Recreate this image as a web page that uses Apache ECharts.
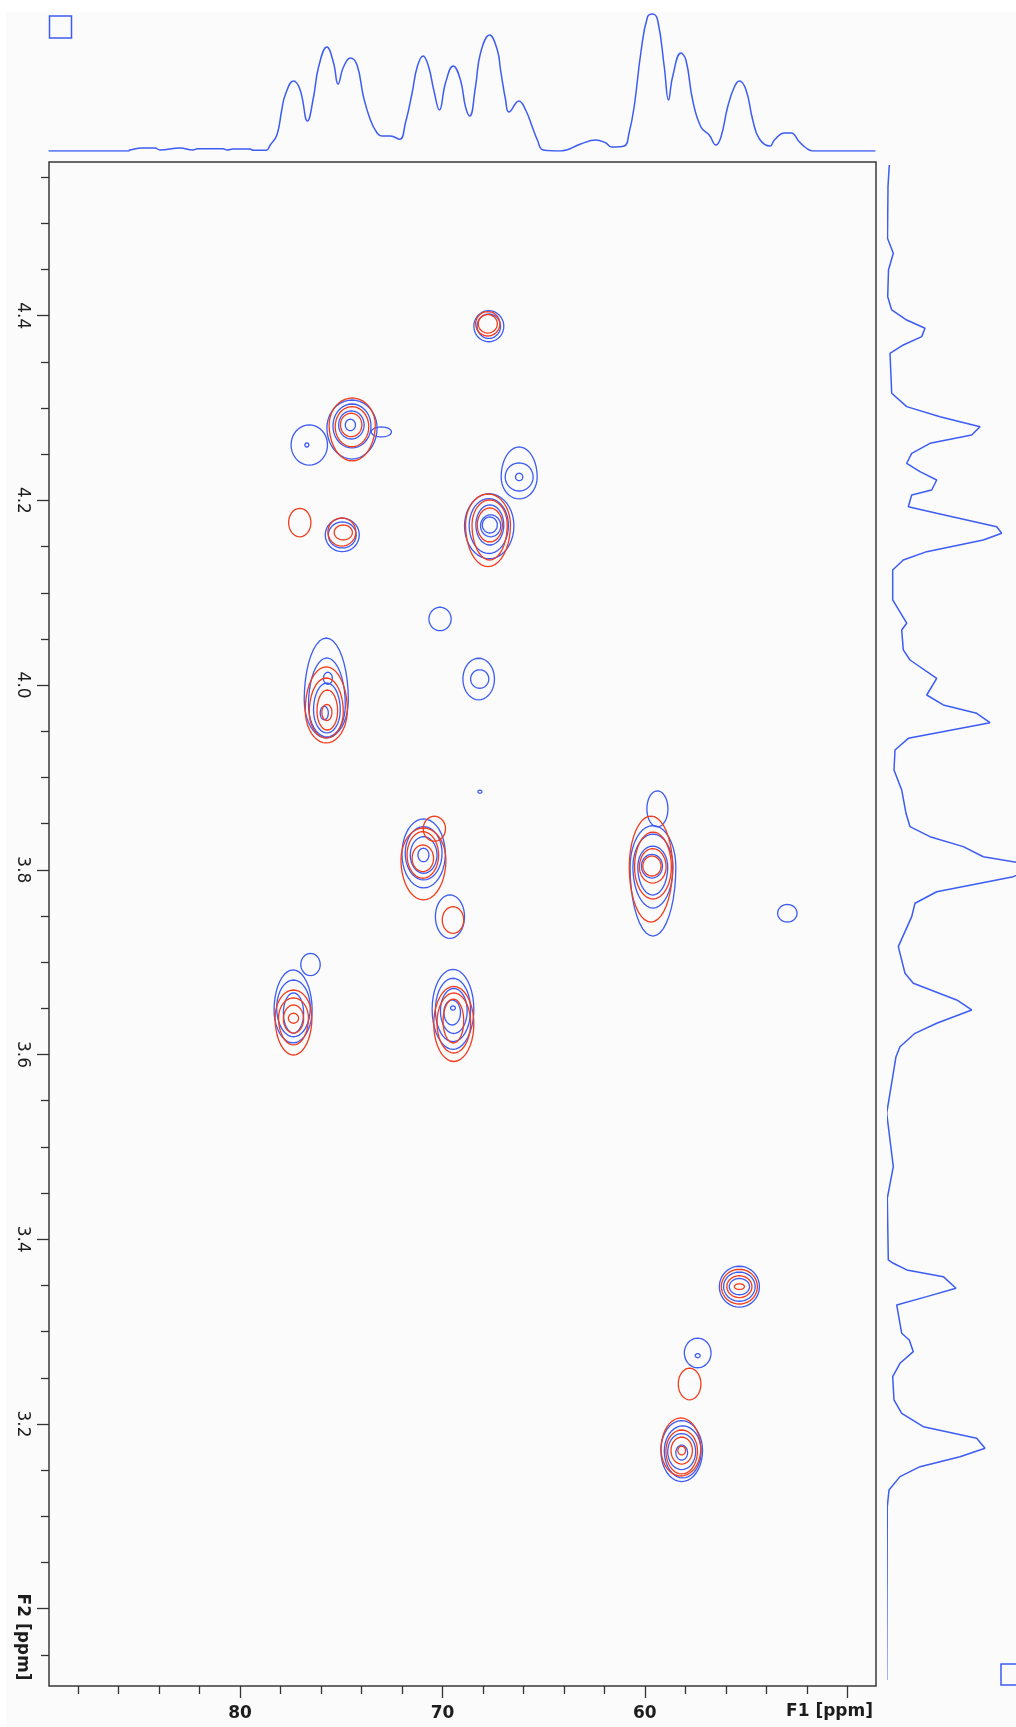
<!DOCTYPE html>
<html>
<head>
<meta charset="utf-8">
<script src="https://cdn.jsdelivr.net/npm/echarts@6/dist/echarts.min.js"></script>
<style>
html,body{margin:0;padding:0;background:#ffffff;}
#c{width:1016px;height:1727px;}
</style>
</head>
<body>
<div id="c"></div>
<script>
// Axis ranges (ppm)
const f1Range = [48.58, 89.44];      // 13C, drawn high -> low
const f2Range = [2.9163, 4.5664];    // 1H

// Tick positions and labels
const xMajorTicks = [80, 70, 60, 50];
const xMinorTicks = [88, 86, 84, 82, 78, 76, 74, 72, 68, 66, 64, 62, 58, 56, 54, 52];
const xTickLabels = [80, 70, 60];
const yMajorTicks = [4.4, 4.2, 4.0, 3.8, 3.6, 3.4, 3.2, 3.0];
const yMinorTicks = [4.55, 4.5, 4.45, 4.35, 4.3, 4.25, 4.15, 4.1, 4.05, 3.95, 3.9, 3.85,
                     3.75, 3.7, 3.65, 3.55, 3.5, 3.45, 3.35, 3.3, 3.25, 3.15, 3.1, 3.05, 2.95];
const yTickLabels = [4.4, 4.2, 4.0, 3.8, 3.6, 3.4, 3.2];

// F1 projection (13C shift, intensity)
const topShift = [89.46, 85.50, 85.45, 84.80, 84.20, 83.96, 82.97, 82.33, 82.10, 80.84, 80.64, 80.35,
  79.50, 79.36, 78.71, 78.51, 78.18, 77.94, 77.77, 77.36, 77.03, 76.67, 76.37, 76.12, 75.71, 75.38,
  75.16, 74.89, 74.55, 74.22, 73.90, 73.56, 73.23, 72.99, 72.57, 72.11, 71.83, 71.50, 71.25, 70.96,
  70.68, 70.43, 70.15, 69.85, 69.47, 69.11, 68.86, 68.65, 68.37, 68.12, 67.67, 67.29, 67.13, 66.88,
  66.72, 66.22, 65.89, 65.56, 65.31, 65.03, 64.16, 63.17, 62.43, 61.93, 61.63, 61.02, 60.78, 60.53,
  60.20, 59.87, 59.62, 59.37, 59.04, 58.83, 58.63, 58.22, 57.97, 57.64, 57.23, 56.82, 56.49, 56.24,
  55.91, 55.58, 55.33, 55.00, 54.67, 54.34, 53.81, 53.60, 53.10, 52.77, 52.36, 52.03, 51.70, 48.61];
const topIntensity = [0, 0, 1, 3, 3, 1, 3, 1, 2.3, 2.3, 1, 2,
  2, 0.7, 0.7, 6, 16, 41, 56, 70, 61, 30, 54, 84, 104, 88,
  67, 84, 93, 86, 54, 31, 18, 15, 15, 11.7, 28, 58, 84, 95,
  84, 61, 41, 68, 85, 71, 44, 35, 64, 98, 116, 101, 81, 51,
  39, 50, 41, 24, 11, 1, 0, 7, 11, 8, 4, 5, 18, 44,
  98, 134, 137, 131, 84, 51, 74, 98, 91, 51, 24, 16, 6, 14,
  44, 64, 70, 61, 31, 12, 5, 11, 18, 18, 9, 3, 0, 0];

// F2 projection (1H shift, intensity)
const rightShift = [4.5632, 4.5397, 4.4838, 4.4676, 4.4495, 4.4206, 4.4062, 4.3953, 4.3864, 4.3773,
  4.3683, 4.3593, 4.3160, 4.3015, 4.2906, 4.2798, 4.2708, 4.2618, 4.2510, 4.2402, 4.2311, 4.2221,
  4.2113, 4.2059, 4.1932, 4.1861, 4.1715, 4.1644, 4.1571, 4.1445, 4.1355, 4.1247, 4.0922, 4.0670,
  4.0597, 4.0381, 4.0272, 4.0074, 3.9893, 3.9785, 3.9695, 3.9593, 3.9424, 3.9298, 3.9081, 3.8865,
  3.8612, 3.8467, 3.8359, 3.8251, 3.8142, 3.8042, 3.7926, 3.7763, 3.7638, 3.7493, 3.7168, 3.6880,
  3.6772, 3.6591, 3.6483, 3.6339, 3.6230, 3.6085, 3.5977, 3.5364, 3.4786, 3.4444, 3.3776, 3.3740,
  3.3668, 3.3595, 3.3470, 3.3379, 3.3289, 3.2982, 3.2909, 3.2783, 3.2657, 3.2512, 3.2260, 3.2116,
  3.1971, 3.1845, 3.1737, 3.1646, 3.1538, 3.1430, 3.1286, 3.1105, 2.9229];
const rightIntensity = [1.3, 0, -0.5, 5.3, 0.5, -0.3, 3.7, 18.7, 37, 33.7,
  15.3, 2, 3.7, 18.7, 52, 92, 83.7, 42, 23.7, 18.7, 32, 48.7,
  43.7, 23.7, 20.3, 48.7, 108.7, 113.7, 95.3, 38.7, 15.3, 4.7, 4.7, 18.7,
  13.7, 15.3, 22, 48.7, 38.7, 55.3, 88.7, 102, 20.3, 7, 6, 13.7,
  18, 22, 42, 75.3, 95.3, 150, 125.3, 48.7, 27, 23.7, 10.3, 17,
  25.3, 68.7, 83.7, 48.7, 27, 12, 8, -1.3, 5.3, -0.7, 0.3, 5.3,
  18.7, 55.3, 68, 38.7, 8.7, 13.7, 21.3, 25.3, 12, 4.7, 6, 13.7,
  35.3, 88.7, 97, 72, 32, 12, 1, -0.7, -1.3];

// Contour rings: [13C centre, 1H centre, 13C half-width, 1H half-height up, 1H half-height down]
const blueRings = [
  [67.71, 4.3886, 0.74, 0.0168, 0.0168], [67.71, 4.3886, 0.58, 0.0132, 0.0132],
  [74.47, 4.2784, 1.24, 0.0303, 0.0336], [74.47, 4.2806, 0.94, 0.0238, 0.0238],
  [74.50, 4.2817, 0.63, 0.0152, 0.0152], [74.55, 4.2817, 0.25, 0.0062, 0.0062],
  [76.58, 4.2600, 0.90, 0.0217, 0.0217], [76.70, 4.2600, 0.10, 0.0022, 0.0022],
  [73.02, 4.2741, 0.50, 0.0054, 0.0054],
  [74.95, 4.1626, 0.84, 0.0181, 0.0181], [74.95, 4.1626, 0.69, 0.0141, 0.0141],
  [66.21, 4.2254, 0.89, 0.0325, 0.0238], [66.21, 4.2254, 0.69, 0.0152, 0.0152],
  [66.21, 4.2254, 0.18, 0.0040, 0.0040],
  [67.69, 4.1725, 1.22, 0.0347, 0.0357], [67.71, 4.1728, 0.97, 0.0292, 0.0303],
  [67.66, 4.1734, 0.69, 0.0217, 0.0217], [67.62, 4.1725, 0.50, 0.0119, 0.0119],
  [67.66, 4.1734, 0.37, 0.0087, 0.0087],
  [70.12, 4.0716, 0.55, 0.0127, 0.0127],
  [68.21, 4.0066, 0.78, 0.0225, 0.0225], [68.16, 4.0066, 0.45, 0.0100, 0.0100],
  [75.74, 3.9839, 1.09, 0.0671, 0.0411], [75.71, 3.9785, 0.91, 0.0509, 0.0346],
  [75.71, 3.9731, 0.66, 0.0292, 0.0249], [75.66, 4.0074, 0.22, 0.0065, 0.0065],
  [75.84, 3.9698, 0.20, 0.0073, 0.0073],
  [68.15, 3.8846, 0.10, 0.0016, 0.0016],
  [70.93, 3.8172, 1.07, 0.0379, 0.0368], [70.93, 3.8180, 0.91, 0.0288, 0.0289],
  [70.93, 3.8161, 0.66, 0.0198, 0.0198], [70.94, 3.8161, 0.27, 0.0073, 0.0073],
  [69.63, 3.7493, 0.72, 0.0235, 0.0235],
  [77.38, 3.6483, 0.94, 0.0433, 0.0357], [76.52, 3.6975, 0.48, 0.0120, 0.0120],
  [77.36, 3.6504, 0.83, 0.0303, 0.0311], [77.36, 3.6450, 0.50, 0.0217, 0.0217],
  [69.48, 3.6490, 1.03, 0.0433, 0.0433], [69.48, 3.6483, 0.87, 0.0343, 0.0343],
  [69.44, 3.6472, 0.66, 0.0244, 0.0244], [69.52, 3.6455, 0.41, 0.0135, 0.0135],
  [69.48, 3.6504, 0.12, 0.0022, 0.0022],
  [59.38, 3.8660, 0.52, 0.0195, 0.0195], [59.60, 3.8030, 1.13, 0.0450, 0.0747],
  [59.60, 3.8030, 0.99, 0.0357, 0.0444], [59.61, 3.8030, 0.74, 0.0227, 0.0303],
  [59.65, 3.8041, 0.52, 0.0126, 0.0130],
  [52.96, 3.7530, 0.48, 0.0095, 0.0095],
  [55.33, 3.3487, 0.99, 0.0221, 0.0221], [55.33, 3.3487, 0.78, 0.0158, 0.0158],
  [55.33, 3.3487, 0.50, 0.0088, 0.0088],
  [57.39, 3.2769, 0.66, 0.0160, 0.0160], [57.39, 3.2740, 0.12, 0.0022, 0.0022],
  [58.18, 3.1712, 1.03, 0.0325, 0.0336], [58.13, 3.1708, 0.91, 0.0271, 0.0292],
  [58.18, 3.1701, 0.69, 0.0195, 0.0195], [58.18, 3.1690, 0.29, 0.0081, 0.0081]
];
const redRings = [
  [67.76, 4.3912, 0.60, 0.0132, 0.0132], [67.76, 4.3912, 0.47, 0.0100, 0.0100],
  [74.46, 4.2817, 1.14, 0.0292, 0.0390], [74.47, 4.2798, 0.83, 0.0217, 0.0217],
  [74.51, 4.2817, 0.53, 0.0127, 0.0127],
  [77.05, 4.1760, 0.55, 0.0154, 0.0154],
  [74.97, 4.1658, 0.69, 0.0152, 0.0152], [74.90, 4.1653, 0.45, 0.0081, 0.0081],
  [67.75, 4.1734, 1.11, 0.0336, 0.0451], [67.67, 4.1734, 0.87, 0.0271, 0.0379],
  [67.66, 4.1734, 0.62, 0.0184, 0.0184],
  [75.74, 3.9731, 1.04, 0.0466, 0.0357], [75.74, 3.9709, 0.84, 0.0368, 0.0282],
  [75.69, 3.9720, 0.51, 0.0227, 0.0206], [75.71, 3.9704, 0.25, 0.0087, 0.0087],
  [70.94, 3.8107, 1.11, 0.0346, 0.0433], [70.40, 3.8445, 0.55, 0.0135, 0.0135],
  [70.97, 3.8161, 0.78, 0.0252, 0.0252], [70.97, 3.8125, 0.53, 0.0144, 0.0144],
  [69.48, 3.7457, 0.53, 0.0144, 0.0144],
  [77.36, 3.6396, 0.91, 0.0303, 0.0401], [77.36, 3.6396, 0.74, 0.0217, 0.0292],
  [77.36, 3.6385, 0.50, 0.0152, 0.0152], [77.36, 3.6393, 0.25, 0.0054, 0.0054],
  [69.44, 3.6331, 0.99, 0.0406, 0.0406], [69.44, 3.6342, 0.83, 0.0325, 0.0325],
  [69.46, 3.6363, 0.51, 0.0238, 0.0238],
  [59.70, 3.8030, 1.07, 0.0552, 0.0596], [59.60, 3.8030, 0.91, 0.0379, 0.0346],
  [59.61, 3.8030, 0.66, 0.0200, 0.0173], [59.65, 3.8041, 0.45, 0.0108, 0.0108],
  [55.33, 3.3487, 0.89, 0.0188, 0.0188], [55.33, 3.3487, 0.62, 0.0118, 0.0118],
  [55.33, 3.3487, 0.25, 0.0030, 0.0030],
  [57.79, 3.2433, 0.56, 0.0171, 0.0171],
  [58.22, 3.1729, 0.98, 0.0336, 0.0292], [58.18, 3.1708, 0.78, 0.0227, 0.0249],
  [58.18, 3.1712, 0.53, 0.0146, 0.0146], [58.18, 3.1712, 0.19, 0.0047, 0.0047]
];

const BLUE = '#3c5cf4';
const RED = '#f23c1c';
const INK = '#1c1c1c';

// One closed contour ring, traced in data space and mapped through the axes
function ringRenderer(color) {
  return function (params, api) {
    const cx = api.value(0), cy = api.value(1), rx = api.value(2), ru = api.value(3), rd = api.value(4);
    const pts = [];
    const n = 40;
    for (let i = 0; i < n; i++) {
      const t = i / n * Math.PI * 2;
      const s = Math.sin(t), c = Math.cos(t);
      pts.push(api.coord([cx + rx * c, cy + (s > 0 ? ru : rd) * s]));
    }
    return {
      type: 'polygon',
      shape: { points: pts },
      style: { fill: 'none', stroke: color, lineWidth: 1.3 }
    };
  };
}

const zip = (a, b) => a.map((v, i) => [v, b[i]]);

const chart = echarts.init(document.getElementById('c'), null, { renderer: 'canvas', width: 1016, height: 1727 });

const hiddenAxis = { show: false, splitLine: { show: false } };

chart.setOption({
  animation: false,
  backgroundColor: '#ffffff',
  grid: [
    { left: 49, top: 162, width: 827, height: 1524, show: true, borderColor: '#3a3a3a', borderWidth: 1.5, backgroundColor: 'transparent' },
    { left: 49, top: 0, width: 827, height: 151 },
    { left: 888, top: 162, width: 128, height: 1524 }
  ],
  xAxis: [
    {
      gridIndex: 0, type: 'value', position: 'bottom', min: f1Range[0], max: f1Range[1], inverse: true,
      axisLine: { show: false }, splitLine: { show: false },
      axisTick: { show: true, length: 12, customValues: xMajorTicks, lineStyle: { color: '#333', width: 1.3 } },
      axisLabel: {
        customValues: xTickLabels, margin: 19,
        fontFamily: 'DejaVu Sans', fontWeight: 'bold', fontSize: 17, color: INK,
        formatter: v => String(Math.round(v))
      }
    },
    {
      gridIndex: 0, type: 'value', position: 'bottom', min: f1Range[0], max: f1Range[1], inverse: true,
      axisLine: { show: false }, splitLine: { show: false }, axisLabel: { show: false },
      axisTick: { show: true, length: 8, customValues: xMinorTicks, lineStyle: { color: '#333', width: 1.3 } }
    },
    Object.assign({ gridIndex: 1, type: 'value', min: f1Range[0], max: f1Range[1], inverse: true }, hiddenAxis),
    Object.assign({ gridIndex: 2, type: 'value', min: 0, max: 128 }, hiddenAxis)
  ],
  yAxis: [
    {
      gridIndex: 0, type: 'value', position: 'left', min: f2Range[0], max: f2Range[1],
      axisLine: { show: false }, splitLine: { show: false },
      axisTick: { show: true, length: 12, customValues: yMajorTicks, lineStyle: { color: '#333', width: 1.3 } },
      axisLabel: {
        customValues: yTickLabels, rotate: -90, margin: 18,
        fontFamily: 'DejaVu Sans', fontSize: 17, color: INK,
        formatter: v => v.toFixed(1)
      }
    },
    {
      gridIndex: 0, type: 'value', position: 'left', min: f2Range[0], max: f2Range[1],
      axisLine: { show: false }, splitLine: { show: false }, axisLabel: { show: false },
      axisTick: { show: true, length: 8, customValues: yMinorTicks, lineStyle: { color: '#333', width: 1.3 } }
    },
    Object.assign({ gridIndex: 1, type: 'value', min: 0, max: 151 }, hiddenAxis),
    Object.assign({ gridIndex: 2, type: 'value', min: f2Range[0], max: f2Range[1] }, hiddenAxis)
  ],
  graphic: [
    { type: 'rect', z: -10, silent: true, shape: { x: 6, y: 12, width: 1010, height: 1715 }, style: { fill: '#fbfbfb' } },
    { type: 'rect', z: 10, shape: { x: 49.5, y: 16, width: 22, height: 22 }, style: { fill: 'none', stroke: BLUE, lineWidth: 1.5 } },
    { type: 'rect', z: 10, shape: { x: 1001, y: 1664, width: 22, height: 21 }, style: { fill: 'none', stroke: BLUE, lineWidth: 1.5 } },
    {
      type: 'text', z: 10, x: 873, y: 1712,
      style: { text: 'F1 [ppm]', fontFamily: 'DejaVu Sans', fontWeight: 'bold', fontSize: 17, fill: INK, align: 'right', verticalAlign: 'middle' }
    },
    {
      type: 'text', z: 10, x: 22, y: 1637, rotation: -Math.PI / 2,
      style: { text: 'F2 [ppm]', fontFamily: 'DejaVu Sans', fontWeight: 'bold', fontSize: 17, fill: INK, align: 'center', verticalAlign: 'middle' }
    }
  ],
  series: [
    {
      type: 'custom', name: 'blue', xAxisIndex: 0, yAxisIndex: 0, clip: true,
      dimensions: ['c13', 'h1', 'rx', 'ru', 'rd'], encode: { x: 0, y: 1 },
      renderItem: ringRenderer(BLUE), data: blueRings, z: 3
    },
    {
      type: 'custom', name: 'red', xAxisIndex: 0, yAxisIndex: 0, clip: true,
      dimensions: ['c13', 'h1', 'rx', 'ru', 'rd'], encode: { x: 0, y: 1 },
      renderItem: ringRenderer(RED), data: redRings, z: 4
    },
    {
      type: 'line', xAxisIndex: 2, yAxisIndex: 2, data: zip(topShift, topIntensity),
      showSymbol: false, smooth: 0.45, clip: true,
      lineStyle: { color: BLUE, width: 1.5 }
    },
    {
      type: 'line', xAxisIndex: 3, yAxisIndex: 3, data: zip(rightIntensity, rightShift),
      showSymbol: false, smooth: false, clip: true,
      lineStyle: { color: BLUE, width: 1.5 }
    }
  ]
});
</script>
</body>
</html>
